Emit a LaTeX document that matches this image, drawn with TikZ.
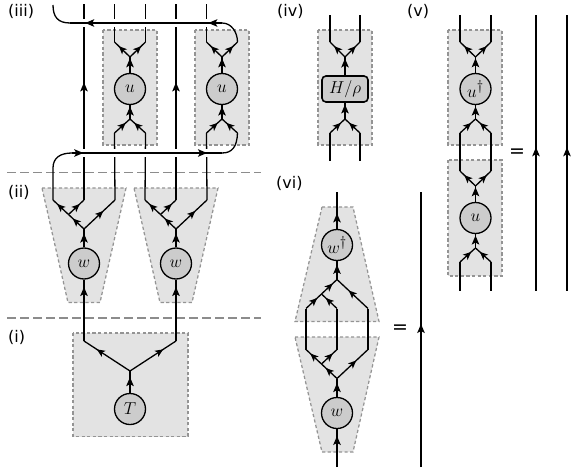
\documentclass[tikz,border=0pt]{standalone}
\usepackage{fontspec}
\setmainfont{DejaVu Sans}
\usetikzlibrary{arrows.meta,decorations.markings,calc}
\tikzset{
  wire/.style={line width=1.3pt,black},
  arr/.style={postaction={decorate},decoration={markings,mark=at position #1 with {\arrow{Stealth[length=9pt,width=7.5pt,inset=2pt]}}}},
  arrs/.style={postaction={decorate},decoration={markings,mark=at position #1 with {\arrow{Stealth[length=8pt,width=7pt,inset=2pt]}}}},
  bluebox/.style={fill=black!11,draw=black!42,line width=1.25pt,dash pattern=on 3.2pt off 2.4pt},
  tens/.style={circle,draw,line width=1.3pt,fill=black!20,minimum size=31pt,inner sep=0pt,font=\fontsize{19}{19}\selectfont},
  sep/.style={draw=black!45,line width=1.3pt,dash pattern=on 9pt off 4pt},
  lab/.style={anchor=base west,inner sep=0pt,font=\fontsize{16}{16}\selectfont},
  eqs/.style={inner sep=0pt,font=\fontsize{19}{19}\selectfont},
  halo/.style={white,line width=8pt}
}
% disentangler-style block: n, cx, cy, label
\newcommand{\ublock}[4]{%
  \node[tens] (#1) at (#2,#3) {#4};
  \coordinate (#1-j) at (#2,#3-32);
  \coordinate (#1-k) at (#2,#3+30);
  \coordinate (#1-tl) at (#2-15.5,#3-47);
  \coordinate (#1-tr) at (#2+15.5,#3-47);
  \coordinate (#1-bl) at (#2-15.5,#3+44);
  \coordinate (#1-br) at (#2+15.5,#3+44);
  \draw[wire,arr=.92] (#1.north) -- (#1-j);
  \draw[wire,arr=.9] (#1-k) -- (#1.south);
  \draw[wire,arrs=.72] (#1-j) -- (#1-tl);
  \draw[wire,arrs=.72] (#1-j) -- (#1-tr);
  \draw[wire,arrs=.72] (#1-bl) -- (#1-k);
  \draw[wire,arrs=.72] (#1-br) -- (#1-k);
}
% isometry, wires upward: n, cx, cy, label
\newcommand{\wblock}[4]{%
  \node[tens] (#1) at (#2,#3) {#4};
  \coordinate (#1-j) at (#2,#3-34.5);
  \coordinate (#1-b) at (#2-15.5,#3-49);
  \coordinate (#1-l) at (#2-31,#3-63.5);
  \coordinate (#1-m) at (#2,#3-63.5);
  \coordinate (#1-r) at (#2+31,#3-63.5);
  \draw[wire,arr=.75] (#1.north) -- (#1-j);
  \draw[wire,arrs=.72] (#1-j) -- (#1-b);
  \draw[wire,arrs=.72] (#1-b) -- (#1-l);
  \draw[wire,arrs=.72] (#1-b) -- (#1-m);
  \draw[wire,arrs=.62] (#1-j) -- (#1-r);
}
% conjugate isometry
\newcommand{\wdagblock}[4]{%
  \node[tens] (#1) at (#2,#3) {#4};
  \coordinate (#1-j) at (#2,#3+34.5);
  \coordinate (#1-b) at (#2-15.5,#3+49);
  \coordinate (#1-l) at (#2-31,#3+63.5);
  \coordinate (#1-m) at (#2,#3+63.5);
  \coordinate (#1-r) at (#2+31,#3+63.5);
  \draw[wire,arr=.8] (#1-j) -- (#1.south);
  \draw[wire,arrs=.72] (#1-b) -- (#1-j);
  \draw[wire,arrs=.72] (#1-l) -- (#1-b);
  \draw[wire,arrs=.72] (#1-m) -- (#1-b);
  \draw[wire,arrs=.62] (#1-r) -- (#1-j);
}
\begin{document}
\begin{tikzpicture}[x=1pt,y=-1pt]
\useasboundingbox (0,0) rectangle (575,468);
\coordinate (top) at (0,4);
\coordinate (top2) at (0,15);
\coordinate (bot2) at (0,160.5);
\coordinate (bot3) at (0,290.5);
% separators
\coordinate (s1a) at (7,172.5); \coordinate (s1b) at (261,172.5);
\coordinate (s2a) at (7,318); \coordinate (s2b) at (261,318);
\draw[sep] (s1a) -- (s1b);
\draw[sep] (s2a) -- (s2b);
% shaded regions
\path[bluebox] (103,30) rectangle (157,145);
\path[bluebox] (195,30) rectangle (249,145);
\path[bluebox] (42,188) -- (126,188) -- (100,302.5) -- (68,302.5) -- cycle;
\path[bluebox] (134,188) -- (218,188) -- (192,302.5) -- (160,302.5) -- cycle;
\path[bluebox] (73,333) rectangle (188,436.5);
\path[bluebox] (318,30) rectangle (372,145);
\path[bluebox] (448,30) rectangle (502,145);
\path[bluebox] (448,160) rectangle (502,276);
\path[bluebox] (322,207) -- (353,207) -- (379,321.5) -- (295,321.5) -- cycle;
\path[bluebox] (295,337) -- (379,337) -- (353,452) -- (322,452) -- cycle;
% labels
\node[lab] at (8,17) {(iii)};
\node[lab] at (8,197) {(ii)};
\node[lab] at (8,342) {(i)};
\node[lab] at (277,17) {(iv)};
\node[lab] at (407,17) {(v)};
\node[lab] at (276,188) {(vi)};
% (iii)
\ublock{ua}{130}{89}{$u$}
\ublock{ub}{222}{89}{$u$}
% (ii)
\wblock{wa}{84}{263.5}{$w$}
\wblock{wb}{176}{263.5}{$w$}
% (i)
\node[tens] (T) at (130,409) {$T$};
\coordinate (Tj) at (130,371);
\coordinate (Tl) at (84,341);
\coordinate (Tr) at (176,341);
\draw[wire,arr=.72] (T.north) -- (Tj);
\draw[wire,arrs=.72] (Tj) -- (Tl);
\draw[wire,arrs=.72] (Tj) -- (Tr);
\draw[wire,arr=.88] (Tl) -- (wa.south);
\draw[wire,arr=.88] (Tr) -- (wb.south);
% vertical wires
\draw[wire,arr=.6] (wa-m) -- (wa-m |- top);
\draw[wire,arr=.6] (wb-m) -- (wb-m |- top);
\draw[wire] (wa-r) -- (ua-bl);
\draw[wire] (wb-l) -- (ua-br);
\draw[wire] (wb-r) -- (ub-bl);
\draw[wire] (ua-tl) -- (ua-tl |- top);
\draw[wire] (ua-tr) -- (ua-tr |- top);
\draw[wire] (ub-tl) -- (ub-tl |- top);
% horizontal crossings
\coordinate (ha) at (70,23); \coordinate (hb) at (222,23);
\coordinate (hc) at (72,153); \coordinate (hd) at (222,153);
\coordinate (lc) at (53,5);
\draw[halo] (ha) -- (hb);
\draw[halo] (hc) -- (hd);
\draw[wire] (ub-tr) .. controls ($(ub-tr)+(0,-9)$) and ($(hb)+(10,0)$) .. (hb);
\draw[wire,arr=.09] (hb) -- (ha);
\draw[wire,arr=.9] (hb) -- (ha);
\draw[wire] (ha) .. controls (58,23) and (53,17) .. (lc);
\draw[wire] (wa-l) -- (53,168) .. controls (53,158) and (60,153) .. (hc);
\draw[wire,arr=.075] (hc) -- (hd);
\draw[wire,arr=.9] (hc) -- (hd);
\draw[wire] (hd) .. controls (232,153) and (237,147) .. (ub-br);
% (iv)
\node[tens,rectangle,rounded corners=4pt,minimum width=46pt,minimum height=26pt,line width=1.6pt] (H) at (345,89) {$H/\rho$};
\coordinate (Hj) at (345,57); \coordinate (Hk) at (345,119);
\coordinate (Htl) at (330,42); \coordinate (Htr) at (360,42);
\coordinate (Hbl) at (330,133); \coordinate (Hbr) at (360,133);
\draw[wire,arr=.92] (H.north) -- (Hj);
\draw[wire,arr=.9] (Hk) -- (H.south);
\draw[wire,arrs=.72] (Hj) -- (Htl);
\draw[wire,arrs=.72] (Hj) -- (Htr);
\draw[wire,arrs=.72] (Hbl) -- (Hk);
\draw[wire,arrs=.72] (Hbr) -- (Hk);
\draw[wire] (Htl) -- (Htl |- top2);
\draw[wire] (Htr) -- (Htr |- top2);
\draw[wire] (Hbl) -- (Hbl |- bot2);
\draw[wire] (Hbr) -- (Hbr |- bot2);
% (v)
\ublock{ud}{475.5}{89}{$u^\dagger$}
\ublock{uc}{475.5}{218}{$u$}
\draw[wire] (ud-tl) -- (ud-tl |- top2);
\draw[wire] (ud-tr) -- (ud-tr |- top2);
\draw[wire] (ud-bl) -- (uc-tl);
\draw[wire] (ud-br) -- (uc-tr);
\draw[wire] (uc-bl) -- (uc-bl |- bot3);
\draw[wire] (uc-br) -- (uc-br |- bot3);
\node[eqs] (eqa) at (517,153) {=};
\coordinate (va) at (536,290.5); \coordinate (vb) at (536,15);
\coordinate (vc) at (567,290.5); \coordinate (vd) at (567,15);
\draw[wire,arr=.52] (va) -- (vb);
\draw[wire,arr=.52] (vc) -- (vd);
% (vi)
\wblock{we}{337}{413}{$w$}
\wdagblock{wf}{337}{245}{$w^\dagger$}
\coordinate (wtop) at (337,192); \coordinate (wbot) at (337,467);
\draw[wire,arr=.82] (wbot) -- (we.south);
\draw[wire,arr=.42] (wf.north) -- (wtop);
\draw[wire] (we-l) -- (wf-l);
\draw[wire] (we-m) -- (wf-m);
\draw[wire] (we-r) -- (wf-r);
\node[eqs] (eqb) at (400,329) {=};
\coordinate (xa) at (421,467); \coordinate (xb) at (421,192);
\draw[wire,arr=.52] (xa) -- (xb);
\end{tikzpicture}
\end{document}
